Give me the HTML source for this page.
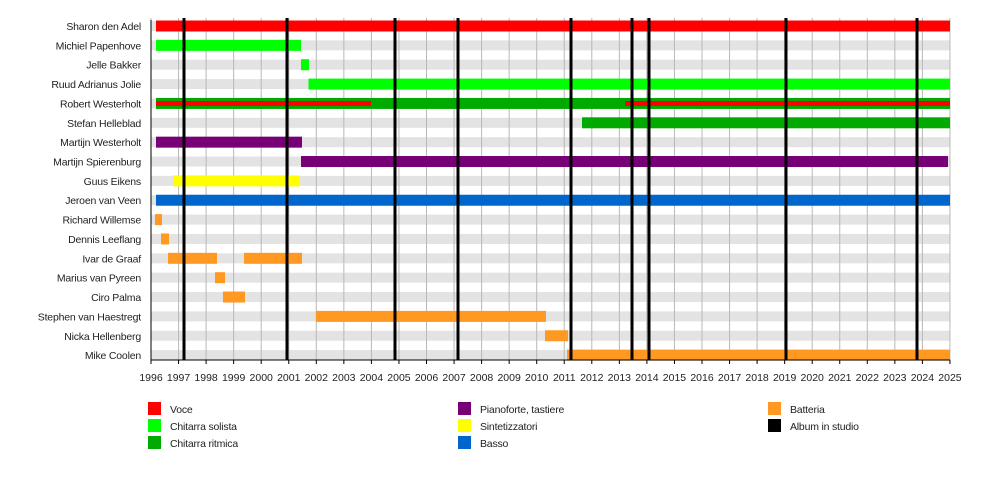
<!DOCTYPE html>
<html><head><meta charset="utf-8"><style>
html,body{margin:0;padding:0;background:#fff;}
svg text{font-family:"Liberation Sans",sans-serif;font-size:10.5px;fill:#222;letter-spacing:-0.2px;}
svg text.t{font-size:10.5px;letter-spacing:0;}
</style></head><body>
<svg width="1000" height="480" xmlns="http://www.w3.org/2000/svg">
<g id="stripes" fill="#e3e3e3"></g>
<g id="grid"></g>
<g id="bars"></g>
<g id="albums"></g>
<g id="labels"></g>
<g id="axis"></g>
<g id="legend"></g>
</svg>
<script>
const NS="http://www.w3.org/2000/svg";
function el(p,t,a,txt){const e=document.createElementNS(NS,t);for(const k in a)e.setAttribute(k,a[k]);if(txt!==undefined)e.textContent=txt;document.getElementById(p).appendChild(e);return e;}
const X=y=>151+27.55*(y-1996);
const cy=i=>26+19.36*i;
const names=["Sharon den Adel","Michiel Papenhove","Jelle Bakker","Ruud Adrianus Jolie","Robert Westerholt","Stefan Helleblad","Martijn Westerholt","Martijn Spierenburg","Guus Eikens","Jeroen van Veen","Richard Willemse","Dennis Leeflang","Ivar de Graaf","Marius van Pyreen","Ciro Palma","Stephen van Haestregt","Nicka Hellenberg","Mike Coolen"];
names.forEach((n,i)=>{
 el("stripes","rect",{x:151,y:cy(i)-5,width:799,height:10});
 el("labels","text",{x:141,y:cy(i)+4,"text-anchor":"end"},n);
});
for(let y=1996;y<=2025;y++){
 const x=X(y);
 el("grid","line",{x1:x,x2:x,y1:18,y2:360,stroke:"#b8b8b8","stroke-width":1});
 el("axis","line",{x1:x,x2:x,y1:360,y2:364,stroke:"#000","stroke-width":1});
 el("axis","text",{x:x,y:381,"text-anchor":"middle","class":"t"},String(y));
}
el("axis","line",{x1:151,x2:151,y1:20,y2:360,stroke:"#000","stroke-width":1});
el("axis","line",{x1:151,x2:950,y1:360,y2:360,stroke:"#000","stroke-width":1});
const R="#ff0000",G="#00ff00",DG="#00aa00",P="#770077",Y="#ffff00",B="#0066cc",O="#ff9922";
const bars=[[0,156,950,R],[1,156,301,G],[2,301,309,G],[3,308.5,950,G],[4,156,950,DG],[5,582,950,DG],[6,156,302,P],[7,301,948,P],[8,173,299,Y],[9,156,950,B],[10,155,162,O],[11,161,169,O],[12,168,217,O],[12,244,302,O],[13,215,225,O],[14,223,245,O],[15,316,546,O],[16,545,568,O],[17,567,950,O]];
bars.forEach(b=>el("bars","rect",{x:b[1],y:cy(b[0])-5.5,width:b[2]-b[1],height:11,fill:b[3]}));
[[156,371],[625,950]].forEach(s=>el("bars","rect",{x:s[0],y:cy(4)-2.5,width:s[1]-s[0],height:5,fill:R}));
[184,287,395,458,571,632,649,786,917].forEach(x=>el("albums","line",{x1:x,x2:x,y1:18,y2:360,stroke:"#000","stroke-width":3}));
const leg=[[148,0,R,"Voce"],[148,1,G,"Chitarra solista"],[148,2,DG,"Chitarra ritmica"],[458,0,P,"Pianoforte, tastiere"],[458,1,Y,"Sintetizzatori"],[458,2,B,"Basso"],[768,0,O,"Batteria"],[768,1,"#000","Album in studio"]];
leg.forEach(l=>{const y=402+17*l[1];el("legend","rect",{x:l[0],y:y,width:13,height:13,fill:l[2]});el("legend","text",{x:l[0]+22,y:y+11},l[3]);});
</script>
</body></html>
